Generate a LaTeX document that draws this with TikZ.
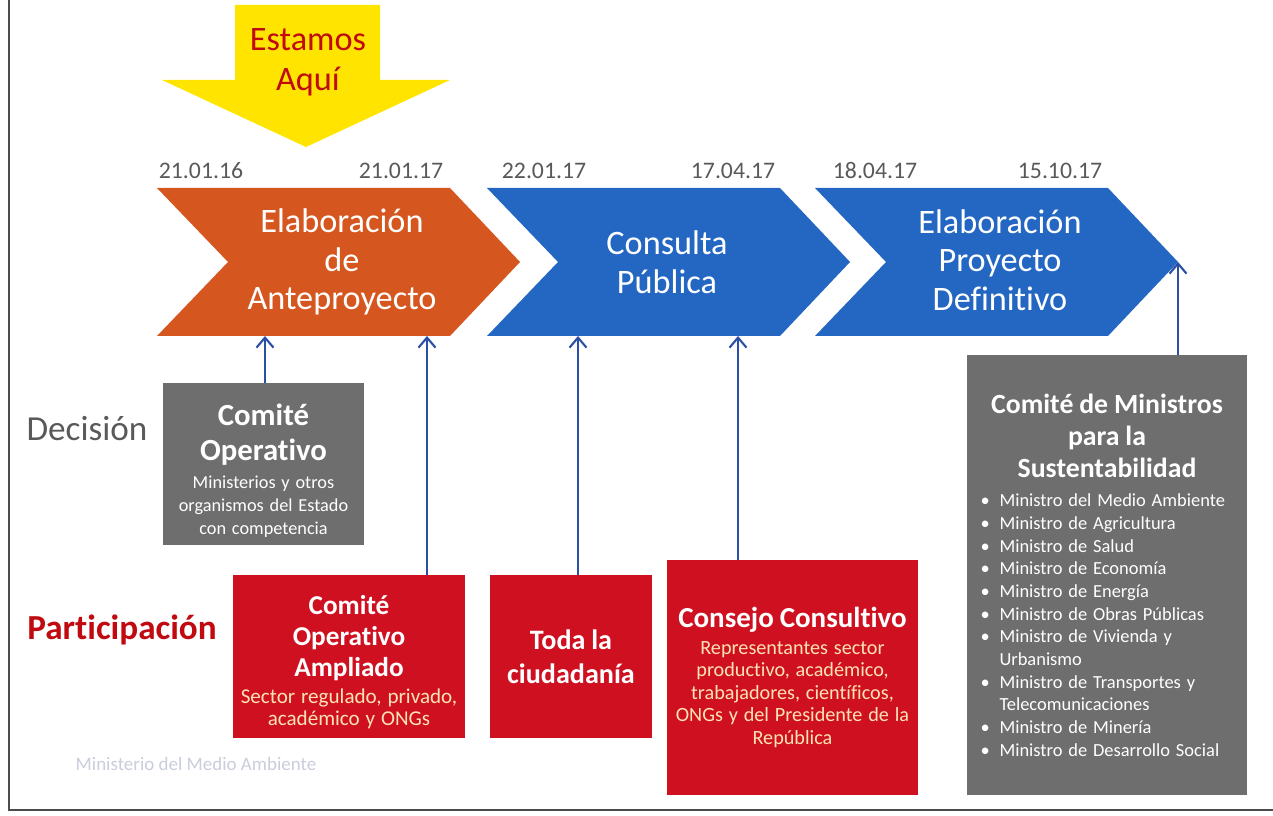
\documentclass[tikz,border=0pt]{standalone}
\usepackage{fontspec}
\setmainfont{Carlito}[Ligatures=NoCommon]
\usetikzlibrary{arrows.meta,positioning}

\definecolor{chevorange}{HTML}{D5561E}
\definecolor{chevblue}{HTML}{2367C2}
\definecolor{boxred}{HTML}{CE1020}
\definecolor{boxgray}{HTML}{6E6E6E}
\definecolor{herered}{HTML}{C00A10}
\definecolor{heregold}{HTML}{FFE400}
\definecolor{datetext}{HTML}{595959}
\definecolor{linkblue}{HTML}{2C4FA6}
\definecolor{peach}{HTML}{FFE3B3}
\definecolor{ghost}{HTML}{C9CDDC}

\newcommand{\minitem}[1]{\hspace*{0.22cm}\makebox[0.38cm][l]{\textbullet}#1}
\newcommand{\mincont}[1]{\hspace*{0.6cm}#1}

\tikzset{
  stage/.style={text=white, align=center, font=\fontsize{19.5}{22}\selectfont},
  datelbl/.style={text=datetext, anchor=base, font=\fontsize{13.5}{16}\selectfont},
  decbox/.style={fill=boxgray, text=white, align=center, inner sep=0pt},
  partbox/.style={fill=boxred, text=white, align=center, inner sep=0pt},
  link/.style={draw=linkblue, line width=1.2pt, -{Straight Barb[length=2mm,width=3.4mm]}},
}

\begin{document}
\begin{tikzpicture}
        \useasboundingbox (0,0) rectangle (25.46,16.3);

        % Draw page frame
        \draw[gray!60!black, line width=0.6pt] (0.18,16.3) -- (0.18,0.1) -- (25.46,0.1);

        % Draw "Estamos Aqui" arrow
        \fill[heregold] (4.7,16.2) -- (7.6,16.2) -- (7.6,14.7) -- (9.0,14.7) -- (6.12,13.36) -- (3.24,14.7) -- (4.7,14.7) -- cycle;
        \node[text=herered, align=center, font=\fontsize{19.5}{22.7}\selectfont] (here) at (6.16,15.06) {Estamos\\Aquí};

        % Draw stages
        \fill[chevorange, shift={(3.14,0)}] (0,12.54) -- (5.86,12.54) -- (7.26,11.06) -- (5.86,9.58) -- (0,9.58) -- (1.42,11.06) -- cycle;
        \fill[chevblue, shift={(9.74,0)}] (0,12.54) -- (5.86,12.54) -- (7.26,11.06) -- (5.86,9.58) -- (0,9.58) -- (1.42,11.06) -- cycle;
        \fill[chevblue, shift={(16.3,0)}] (0,12.54) -- (5.86,12.54) -- (7.26,11.06) -- (5.86,9.58) -- (0,9.58) -- (1.42,11.06) -- cycle;

        \node[stage] (s1) at (6.84,11.06) {Elaboración\\de\\Anteproyecto};
        \node[stage] (s2) at (13.34,11.06) {Consulta\\Pública};
        \node[stage] (s3) at (20.0,11.1) {Elaboración\\Proyecto\\Definitivo};

        % Draw dates
        \foreach \x/\d [count=\i] in {4.02/21.01.16, 8.02/21.01.17, 10.88/22.01.17, 14.66/17.04.17, 17.5/18.04.17, 21.2/15.10.17}
            \node[datelbl] (d\i) at (\x,12.72) {\d};

        % Draw row labels
        \node[text=datetext, font=\fontsize{20}{22}\selectfont] (dec) at (1.74,7.72) {Decisión};
        \node[text=herered, font=\bfseries\fontsize{20}{22}\selectfont] (par) at (2.44,3.7) {Participación};

        % Draw decision boxes
        \node[decbox, minimum width=4.02cm, minimum height=3.24cm, text width=3.9cm] (cop) at (5.27,7.02) {%
            {\bfseries\fontsize{17.5}{19.8}\selectfont Comité\\Operativo\par}\vspace{2.4pt}
            {\fontsize{10.4}{13.3}\selectfont Ministerios y otros\\organismos del Estado\\con competencia\par}\vspace{-8pt}};
        \node[decbox, minimum width=5.6cm, minimum height=8.8cm, text width=5.5cm] (cmin) at (22.14,4.8) {%
            {\bfseries\fontsize{15.8}{18.4}\selectfont Comité de Ministros\\para la\\Sustentabilidad\par}\vspace{3.6pt}
            {\raggedright\fontsize{10.5}{12.9}\selectfont
            \minitem{Ministro del Medio Ambiente}\\
            \minitem{Ministro de Agricultura}\\
            \minitem{Ministro de Salud}\\
            \minitem{Ministro de Economía}\\
            \minitem{Ministro de Energía}\\
            \minitem{Ministro de Obras Públicas}\\
            \minitem{Ministro de Vivienda y}\\
            \mincont{Urbanismo}\\
            \minitem{Ministro de Transportes y}\\
            \mincont{Telecomunicaciones}\\
            \minitem{Ministro de Minería}\\
            \minitem{Ministro de Desarrollo Social}\par}};

        % Draw participation boxes
        \node[partbox, minimum width=4.64cm, minimum height=3.26cm, text width=4.6cm] (cam) at (6.98,3.17) {%
            {\bfseries\fontsize{15.5}{17.9}\selectfont Comité\\Operativo\\Ampliado\par}\vspace{2.5pt}
            {\color{peach}\fontsize{12}{12.5}\selectfont Sector regulado, privado,\\académico y ONGs\par}\vspace{-6pt}};
        \node[partbox, minimum width=3.24cm, minimum height=3.26cm, text width=3.1cm] (tod) at (11.42,3.17) {%
            {\bfseries\fontsize{16}{19.3}\selectfont Toda la\\ciudadanía\par}};
        \node[partbox, minimum width=5.02cm, minimum height=4.7cm, text width=4.9cm] (cco) at (15.85,2.75) {%
            {\bfseries\fontsize{16.5}{18}\selectfont Consejo Consultivo\par}\vspace{2.5pt}
            {\color{peach}\fontsize{11.5}{12.8}\selectfont Representantes sector\\productivo, académico,\\trabajadores, científicos,\\ONGs y del Presidente de la\\República\par}};

        % Draw links to stages
        \coordinate (t1) at (5.3,9.58);
        \coordinate (t2) at (8.54,9.58);
        \coordinate (t3) at (11.56,9.58);
        \coordinate (t4) at (14.76,9.58);
        \coordinate (t5) at (23.56,11.06);
        \draw[link] (cop.north -| t1) -- (t1);
        \draw[link] (cam.north -| t2) -- (t2);
        \draw[link] (tod.north -| t3) -- (t3);
        \draw[link] (cco.north -| t4) -- (t4);
        \draw[link] (cmin.north -| t5) -- (t5);

        % Footer
        \node[text=ghost, font=\fontsize{10.8}{13}\selectfont] (foot) at (3.92,1.02) {Ministerio del Medio Ambiente};
\end{tikzpicture}
\end{document}
